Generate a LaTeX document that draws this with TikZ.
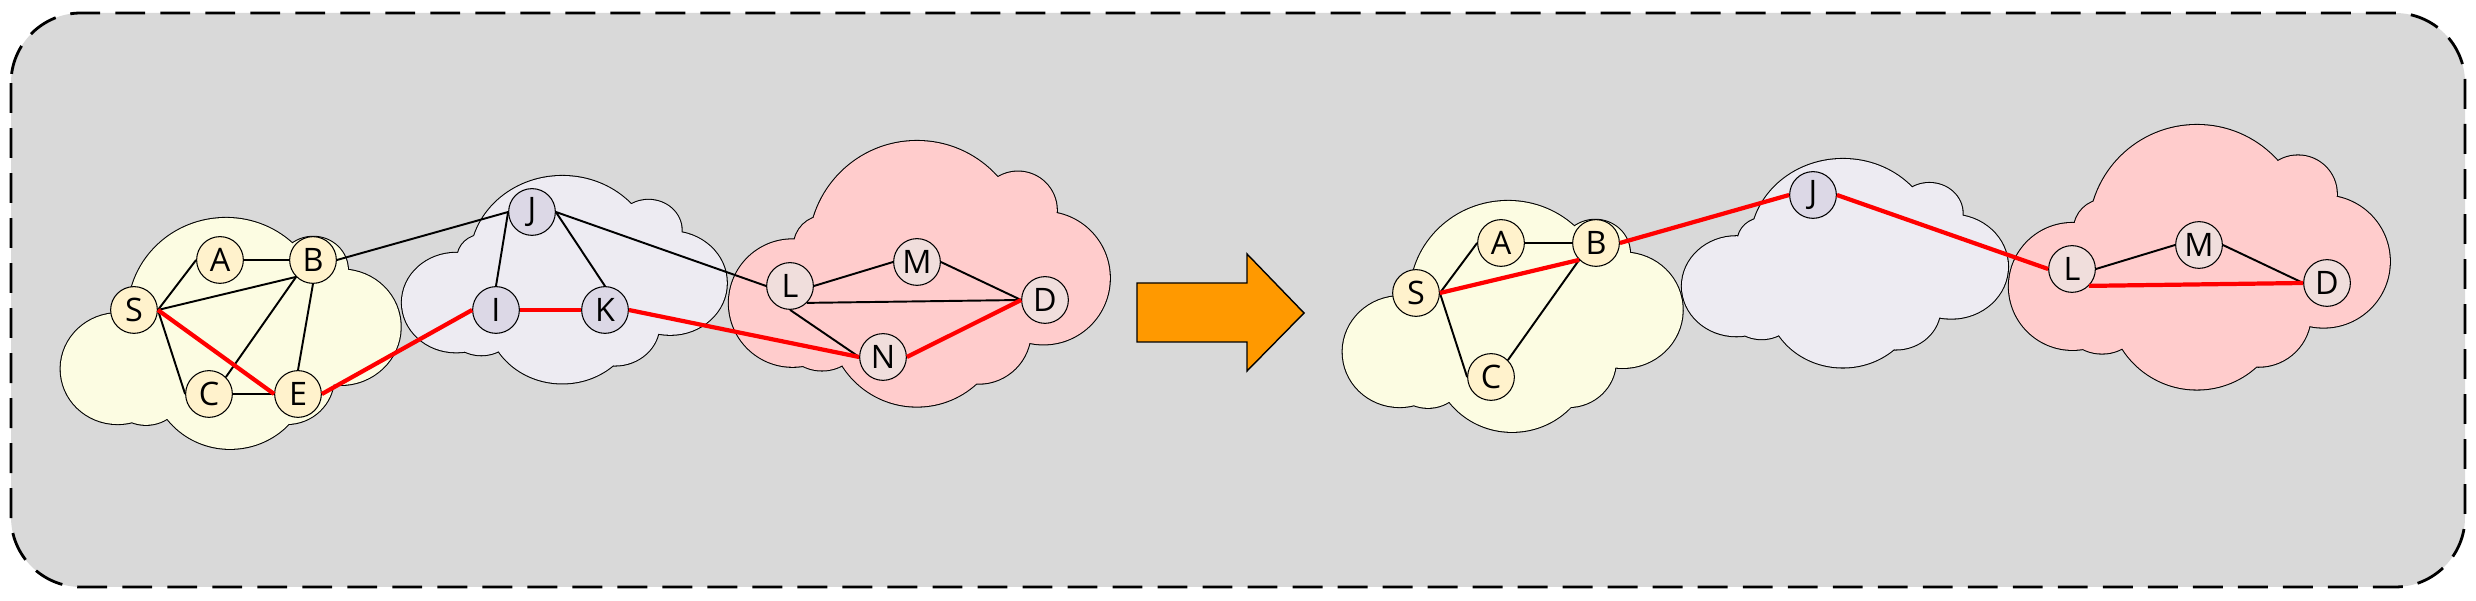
\documentclass[tikz,border=0pt]{standalone}
\usepackage{fontspec}
\setmainfont{Open Sans}
\definecolor{BGgray}{HTML}{D9D9D9}
\definecolor{CLyellow}{HTML}{FCFCE2}
\definecolor{NDyellow}{HTML}{FFF2CC}
\definecolor{CLlav}{HTML}{EDEBF2}
\definecolor{NDlav}{HTML}{DCD8E6}
\definecolor{CLpink}{HTML}{FFCCCC}
\definecolor{NDpink}{HTML}{F0DEDC}
\definecolor{ARorange}{HTML}{FF9900}
\usetikzlibrary{arrows.meta}

% puffs of one cloud, in pixels of a 381 x 265 box
\newcommand{\cloudpuffs}{(95,105) circle[radius=30] (188,108) circle[radius=108]
  (289,69.4) circle[radius=38.8] (314.5,137.1) circle[radius=66.3]
  (249.5,190.5) circle[radius=52.2] (187.9,177.4) circle[radius=88.2]
  (93,187) circle[radius=42.5] (63.6,162.1) circle[radius=63.7]}
\newcommand{\puffcloud}[2]{%
  \begin{scope}[#1]
    \draw[line width=0.6pt] \cloudpuffs;
    \fill[#2] \cloudpuffs;
  \end{scope}}

\begin{document}
\begin{tikzpicture}[x=0.01cm, y=-0.01cm,
    font=\fontsize{9.2}{11}\selectfont,
    vtx/.style={circle, draw, line width=0.3pt, minimum size=0.467cm, inner sep=0pt},
    ynode/.style={vtx, fill=NDyellow},
    lnode/.style={vtx, fill=NDlav},
    pnode/.style={vtx, fill=NDpink},
    link/.style={line width=0.55pt},
    route/.style={red, line width=1.2pt}]
  \useasboundingbox (0,0) rectangle (2476,601);
  % panel
  \draw[fill=BGgray, line width=0.8pt, dash pattern=on 8.5pt off 4.3pt,
        rounded corners=0.7cm] (11,13) rectangle (2465,587);

  % clouds, before
  \puffcloud{shift={(229.5,333)}, rotate=5, xscale=0.9, yscale=0.87, shift={(-190.5,-132.5)}}{CLyellow}
  \puffcloud{shift={(402,176)}, xscale=0.853, yscale=0.781}{CLlav}
  \puffcloud{shift={(729,141)}}{CLpink}
  % clouds, after
  \puffcloud{shift={(1511.5,316)}, rotate=5, xscale=0.9, yscale=0.87, shift={(-190.5,-132.5)}}{CLyellow}
  \puffcloud{shift={(1682,159)}, xscale=0.856, yscale=0.785}{CLlav}
  \puffcloud{shift={(2009,125)}, yscale=0.996}{CLpink}

  % arrow
  \filldraw[fill=ARorange, line width=0.4pt] (1137,283) -- (1247,283) -- (1247,254)
    -- (1304,313) -- (1247,371) -- (1247,342) -- (1137,342) -- cycle;

  % before
  \node[ynode] (S1) at (134,310) {S};
  \node[ynode] (A1) at (220,260) {A};
  \node[ynode] (B1) at (313,260) {B};
  \node[ynode] (C1) at (209,394) {C};
  \node[ynode] (E1) at (298,394) {E};
  \node[lnode] (J1) at (532,212) {J};
  \node[lnode] (I1) at (496,310) {I};
  \node[lnode] (K1) at (605,310) {K};
  \node[pnode] (L1) at (790,286) {L};
  \node[pnode] (M1) at (917,262) {M};
  \node[pnode] (D1) at (1045,300) {D};
  \node[pnode] (N1) at (883,357) {N};

  \draw[link] (S1.east) -- (A1.west);
  \draw[link] (A1.east) -- (B1.west);
  \draw[link] (S1.east) -- (B1.south west);
  \draw[link] (S1.east) -- (C1.west);
  \draw[link] (C1.north east) -- (B1.south west);
  \draw[link] (C1.east) -- (E1.west);
  \draw[link] (B1.south) -- (E1.north);
  \draw[link] (B1.east) -- (J1.west);
  \draw[link] (J1.west) -- (I1.north);
  \draw[link] (J1.east) -- (K1.north);
  \draw[link] (J1.east) -- (L1.west);
  \draw[link] (L1.east) -- (M1.west);
  \draw[link] (M1.east) -- (D1.west);
  \draw[link] (L1.south east) -- (D1.west);
  \draw[link] (L1.south) -- (N1.west);
  \draw[route] (S1.east) -- (E1.west);
  \draw[route] (E1.east) -- (I1.west);
  \draw[route] (I1.east) -- (K1.west);
  \draw[route] (K1.east) -- (N1.west);
  \draw[route] (N1.east) -- (D1.west);

  % after
  \node[ynode] (S2) at (1416,293) {S};
  \node[ynode] (A2) at (1501,243) {A};
  \node[ynode] (B2) at (1596,243) {B};
  \node[ynode] (C2) at (1491,377) {C};
  \node[lnode] (J2) at (1813,195) {J};
  \node[pnode] (L2) at (2072,269) {L};
  \node[pnode] (M2) at (2199,245) {M};
  \node[pnode] (D2) at (2327,283) {D};

  \draw[link] (S2.east) -- (A2.west);
  \draw[link] (A2.east) -- (B2.west);
  \draw[link] (S2.east) -- (C2.west);
  \draw[link] (C2.north east) -- (B2.south west);
  \draw[link] (L2.east) -- (M2.west);
  \draw[link] (M2.east) -- (D2.west);
  \draw[route] (S2.east) -- (B2.south west);
  \draw[route] (B2.east) -- (J2.west);
  \draw[route] (J2.east) -- (L2.west);
  \draw[route] (L2.south east) -- (D2.west);
\end{tikzpicture}
\end{document}
